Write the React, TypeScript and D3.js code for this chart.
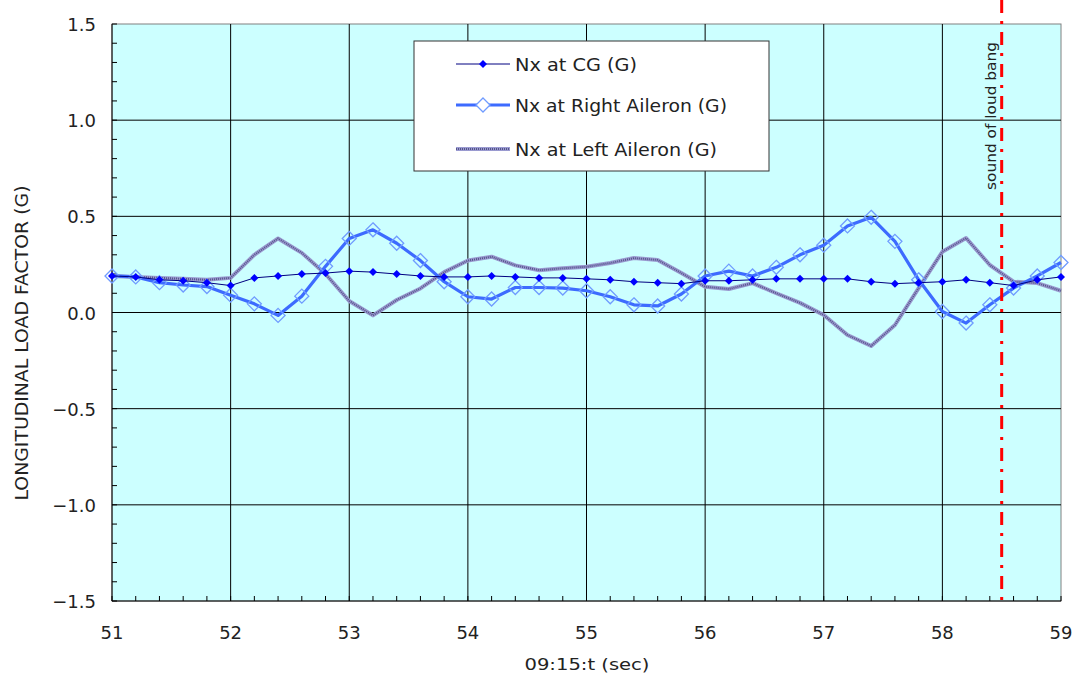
import React from "react";
import * as d3 from "d3";

const times = [51.0, 51.2, 51.4, 51.6, 51.8, 52.0, 52.2, 52.4, 52.6, 52.8, 53.0, 53.2, 53.4, 53.6, 53.8, 54.0, 54.2, 54.4, 54.6, 54.8, 55.0, 55.2, 55.4, 55.6, 55.8, 56.0, 56.2, 56.4, 56.6, 56.8, 57.0, 57.2, 57.4, 57.6, 57.8, 58.0, 58.2, 58.4, 58.6, 58.8, 59.0];

const nxCG = [0.19, 0.185, 0.17, 0.165, 0.155, 0.14, 0.18, 0.19, 0.2, 0.205, 0.215, 0.21, 0.2, 0.19, 0.185, 0.185, 0.19, 0.185, 0.18, 0.18, 0.175, 0.17, 0.16, 0.155, 0.15, 0.165, 0.165, 0.17, 0.175, 0.175, 0.175, 0.175, 0.16, 0.15, 0.155, 0.16, 0.17, 0.155, 0.14, 0.17, 0.185];

const nxRight = [0.19, 0.185, 0.155, 0.143, 0.135, 0.09, 0.045, -0.015, 0.085, 0.24, 0.385, 0.43, 0.36, 0.27, 0.16, 0.082, 0.07, 0.13, 0.13, 0.127, 0.113, 0.082, 0.04, 0.034, 0.096, 0.19, 0.215, 0.19, 0.235, 0.3, 0.35, 0.45, 0.495, 0.37, 0.17, 0.005, -0.055, 0.04, 0.127, 0.19, 0.26];

const nxLeft = [0.19, 0.185, 0.18, 0.175, 0.17, 0.18, 0.3, 0.385, 0.31, 0.2, 0.06, -0.015, 0.065, 0.125, 0.21, 0.27, 0.29, 0.245, 0.22, 0.23, 0.238, 0.257, 0.283, 0.273, 0.205, 0.134, 0.122, 0.153, 0.1, 0.05, -0.013, -0.117, -0.174, -0.065, 0.127, 0.316, 0.387, 0.247, 0.16, 0.153, 0.113];

const xTicks = [51, 52, 53, 54, 55, 56, 57, 58, 59];
const yTicks = [-1.5, -1.0, -0.5, 0.0, 0.5, 1.0, 1.5];
const legendLabels = ["Nx at CG (G)", "Nx at Right Aileron (G)", "Nx at Left Aileron (G)"];
const bangTime = 58.5;

const font = "'DejaVu Sans', 'Liberation Sans', sans-serif";

const diamond = (r: number) => `M0,${-r}L${r},0L0,${r}L${-r},0Z`;

export default function App() {
  const W = 1074, H = 686;
  const left = 112, right = 1061, top = 24, bottom = 601;
  const x = d3.scaleLinear().domain([51, 59]).range([left, right]);
  const y = d3.scaleLinear().domain([-1.5, 1.5]).range([bottom, top]);

  const line = (vals: number[]) =>
    d3.line<number>().x((_, i) => x(times[i])).y((v) => y(v))(vals) || "";

  const xMinor = d3.range(51, 59.001, 0.2);
  const yMinor = d3.range(-1.5, 1.5001, 0.1);
  const fmt = (v: number) => (v < 0 ? "\u2212" + Math.abs(v).toFixed(1) : v.toFixed(1));

  const legendX = 414, legendY = 41;
  const rows = [64, 105, 149];
  const legendWidths = [122, 212, 202];

  return (
    <svg width={W} height={H} style={{ position: "absolute", left: 0, top: 0 }} fontFamily={font} fill="#222">
      <rect x={0} y={0} width={W} height={H} fill="#fff" />
      <rect x={left} y={top} width={right - left} height={bottom - top} fill="#ccffff" stroke="#808080" />
      {/* grid */}
      {xTicks.slice(1, -1).map((t) => (
        <line key={"gx" + t} x1={x(t)} x2={x(t)} y1={top} y2={bottom} stroke="#000" strokeWidth={1} />
      ))}
      {yTicks.slice(1, -1).map((t) => (
        <line key={"gy" + t} x1={left} x2={right} y1={y(t)} y2={y(t)} stroke="#000" strokeWidth={1} />
      ))}
      {/* minor ticks */}
      {yMinor.map((t, i) => (
        <line key={"my" + i} x1={left} x2={left + 5} y1={y(t)} y2={y(t)} stroke="#000" />
      ))}
      {xMinor.map((t, i) => (
        <line key={"mx" + i} x1={x(t)} x2={x(t)} y1={bottom} y2={bottom - 5} stroke="#000" />
      ))}
      {/* axes */}
      <line x1={left} x2={left} y1={top} y2={bottom} stroke="#000" />
      <line x1={left} x2={right} y1={bottom} y2={bottom} stroke="#000" />
      {yTicks.map((t) => (
        <text key={"ty" + t} x={96} y={y(t) + 7} textAnchor="end" fontSize={18}>{fmt(t)}</text>
      ))}
      {xTicks.map((t) => (
        <text key={"tx" + t} x={x(t)} y={639} textAnchor="middle" fontSize={18}>{t}</text>
      ))}
      <text x={587} y={670} textAnchor="middle" fontSize={16} textLength={125} lengthAdjust="spacingAndGlyphs">09:15:t (sec)</text>
      <text transform="translate(28,343) rotate(-90)" textAnchor="middle" fontSize={18} textLength={315} lengthAdjust="spacingAndGlyphs">LONGITUDINAL LOAD FACTOR (G)</text>

      {/* series */}
      <path d={line(nxLeft)} fill="none" stroke="#9a9ad0" strokeWidth={4} strokeLinejoin="round" />
      <path d={line(nxLeft)} fill="none" stroke="#55558a" strokeWidth={2} strokeDasharray="1 1" />
      <path d={line(nxRight)} fill="none" stroke="#3d6bff" strokeWidth={3.2} strokeLinejoin="round" />
      {nxRight.map((v, i) => (
        <path key={"r" + i} d={diamond(7)} transform={`translate(${x(times[i])},${y(v)})`} fill="none" stroke="#6f9bff" strokeWidth={1.3} />
      ))}
      <path d={line(nxCG)} fill="none" stroke="#000080" strokeWidth={1} />
      {nxCG.map((v, i) => (
        <path key={"c" + i} d={diamond(4)} transform={`translate(${x(times[i])},${y(v)})`} fill="#0000ff" />
      ))}

      {/* bang marker */}
      <line x1={x(bangTime)} x2={x(bangTime)} y1={0} y2={bottom} stroke="#ff0000" strokeWidth={3} strokeDasharray="13 8 3 8" />
      <text transform={`translate(${x(bangTime) - 6},116) rotate(-90)`} textAnchor="middle" fontSize={14} textLength={148} lengthAdjust="spacingAndGlyphs">sound of loud bang</text>

      {/* legend */}
      <rect x={legendX} y={legendY} width={355} height={130} fill="#fff" stroke="#333" />
      <line x1={456} x2={510} y1={rows[0]} y2={rows[0]} stroke="#000080" strokeWidth={1} />
      <path d={diamond(4)} transform={`translate(483,${rows[0]})`} fill="#0000ff" />
      <line x1={456} x2={510} y1={rows[1]} y2={rows[1]} stroke="#3d6bff" strokeWidth={3.2} />
      <path d={diamond(7)} transform={`translate(483,${rows[1]})`} fill="#fff" stroke="#6f9bff" strokeWidth={1.3} />
      <line x1={456} x2={510} y1={rows[2]} y2={rows[2]} stroke="#9a9ad0" strokeWidth={4} />
      <line x1={456} x2={510} y1={rows[2]} y2={rows[2]} stroke="#55558a" strokeWidth={2} strokeDasharray="1 1" />
      {legendLabels.map((l, i) => (
        <text key={l} x={515} y={rows[i] + 7} fontSize={18} textLength={legendWidths[i]} lengthAdjust="spacingAndGlyphs">{l}</text>
      ))}
    </svg>
  );
}
